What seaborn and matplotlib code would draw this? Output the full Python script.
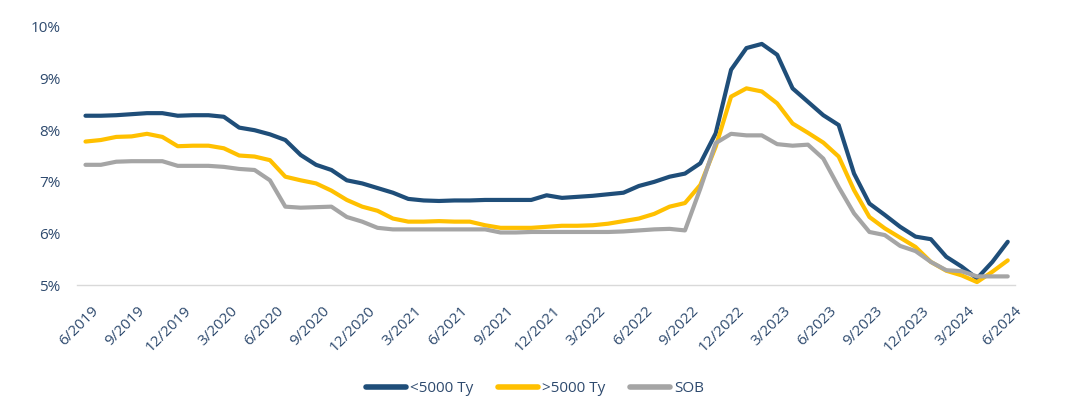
import matplotlib
matplotlib.use("Agg")
import matplotlib.pyplot as plt
import matplotlib.transforms as mtransforms
import seaborn as sns
import pandas as pd
import numpy as np

# monthly values 6/2019 .. 6/2024 (%)
under_5000 = [8.28, 8.28, 8.29, 8.31, 8.33, 8.33, 8.28, 8.29, 8.29, 8.26,
              8.05, 8.00, 7.92, 7.81, 7.52, 7.33, 7.23, 7.03, 6.97, 6.88,
              6.79, 6.67, 6.64, 6.63, 6.64, 6.64, 6.65, 6.65, 6.65, 6.65,
              6.74, 6.69, 6.71, 6.73, 6.76, 6.79, 6.92, 7.00, 7.10, 7.16,
              7.36, 7.94, 9.17, 9.59, 9.67, 9.46, 8.81, 8.55, 8.29, 8.10,
              7.16, 6.58, 6.36, 6.13, 5.94, 5.89, 5.55, 5.36, 5.13, 5.45,
              5.84]
over_5000 = [7.78, 7.81, 7.87, 7.88, 7.93, 7.87, 7.69, 7.70, 7.70, 7.65,
             7.51, 7.49, 7.42, 7.10, 7.03, 6.97, 6.83, 6.65, 6.52, 6.44,
             6.29, 6.23, 6.23, 6.24, 6.23, 6.23, 6.16, 6.11, 6.11, 6.11,
             6.13, 6.15, 6.15, 6.16, 6.19, 6.24, 6.29, 6.38, 6.52, 6.59,
             6.94, 7.68, 8.65, 8.81, 8.75, 8.52, 8.13, 7.95, 7.76, 7.49,
             6.84, 6.32, 6.10, 5.92, 5.74, 5.45, 5.28, 5.19, 5.06, 5.26,
             5.48]
sob = [7.33, 7.33, 7.39, 7.40, 7.40, 7.40, 7.31, 7.31, 7.31, 7.29,
       7.25, 7.23, 7.03, 6.52, 6.50, 6.51, 6.52, 6.32, 6.23, 6.11,
       6.08, 6.08, 6.08, 6.08, 6.08, 6.08, 6.08, 6.02, 6.02, 6.03,
       6.03, 6.03, 6.03, 6.03, 6.03, 6.04, 6.06, 6.08, 6.09, 6.06,
       6.87, 7.75, 7.93, 7.90, 7.90, 7.73, 7.70, 7.72, 7.45, 6.90,
       6.39, 6.03, 5.97, 5.76, 5.66, 5.45, 5.29, 5.27, 5.17, 5.17,
       5.17]

series_names = ["<5000 Ty", ">5000 Ty", "SOB"]
tick_labels = ["6/2019", "9/2019", "12/2019", "3/2020", "6/2020", "9/2020",
               "12/2020", "3/2021", "6/2021", "9/2021", "12/2021", "3/2022",
               "6/2022", "9/2022", "12/2022", "3/2023", "6/2023", "9/2023",
               "12/2023", "3/2024", "6/2024"]

colors = {"<5000 Ty": "#1F4E79", ">5000 Ty": "#FFC000", "SOB": "#A5A5A5"}
text_color = "#2E4A6E"

month_idx = np.arange(len(under_5000))
df = pd.DataFrame({
    "month": np.tile(month_idx, 3),
    "value": under_5000 + over_5000 + sob,
    "series": np.repeat(series_names, len(month_idx)),
})

sns.set_theme(style="white")
plt.rcParams["font.family"] = ["Open Sans", "DejaVu Sans"]

fig = plt.figure(figsize=(10.7, 4.2), dpi=100)
ax = fig.add_axes([0.072, 0.321, 0.877, 0.615])

sns.lineplot(data=df, x="month", y="value", hue="series", palette=colors,
             hue_order=series_names, linewidth=3, ax=ax, legend=True)
for ln in ax.lines:
    ln.set_solid_joinstyle("round")
    ln.set_solid_capstyle("round")

ax.set_ylim(5, 10)
ax.set_xlim(-0.55, 60.5)
ax.set_yticks(np.arange(5, 11, 1))
ax.set_yticklabels([f"{v}%" for v in range(5, 11)], color=text_color, fontsize=11)
ax.set_xticks(month_idx[::3])
ax.set_xticklabels(tick_labels, rotation=45, ha="right", rotation_mode="anchor",
                   color=text_color, fontsize=11)
ax.tick_params(axis="both", length=0)
ax.tick_params(axis="y", pad=12)
ax.tick_params(axis="x", pad=13)
# nudge the rotated labels a little to the right, as in the original
shift = mtransforms.ScaledTranslation(6 / 100, 0, fig.dpi_scale_trans)
for lbl in ax.get_xticklabels():
    lbl.set_transform(lbl.get_transform() + shift)
ax.set_xlabel("")
ax.set_ylabel("")
for side in ["left", "right", "top"]:
    ax.spines[side].set_visible(False)
ax.spines["bottom"].set_color("#D9D9D9")
ax.spines["bottom"].set_linewidth(1)

handles, labels = ax.get_legend_handles_labels()
ax.get_legend().remove()
leg = fig.legend(handles, labels, loc="center", bbox_to_anchor=(0.5, 0.074),
                 ncol=3, frameon=False, fontsize=11, handlelength=2.6,
                 handletextpad=0.3, columnspacing=1.6)
for t in leg.get_texts():
    t.set_color(text_color)
for h in leg.get_lines():
    h.set_linewidth(4)

fig.savefig("out.png", dpi=100)
